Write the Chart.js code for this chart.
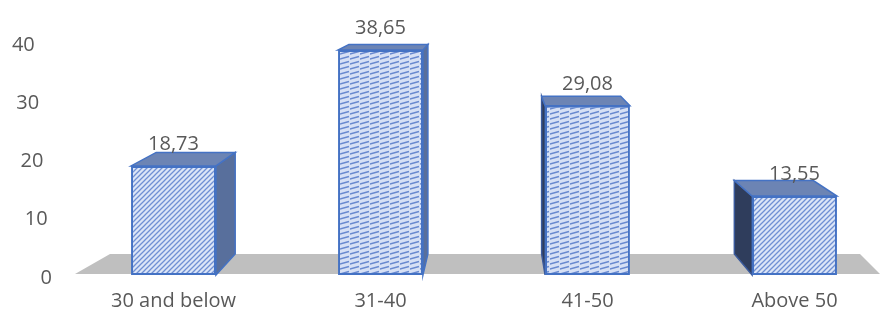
<!DOCTYPE html>
<html>
<head>
<meta charset="utf-8">
<script src="https://cdn.jsdelivr.net/npm/chart.js@4.4.1/dist/chart.umd.min.js"></script>
<style>
  html, body { margin: 0; padding: 0; overflow: hidden; background: #fff; }
  canvas { display: block; }
</style>
</head>
<body>
<canvas id="ageChart" width="898" height="335"></canvas>
<script>
const categories = ['30 and below', '31-40', '41-50', 'Above 50'];
const shares = [18.73, 38.65, 29.08, 13.55];
const yTicks = [0, 10, 20, 30, 40];

const textColor = '#595959';
const fontFamily = '"Open Sans", "Liberation Sans", sans-serif';

// hatch fills for the bar fronts
function makePattern(kind) {
	const c = document.createElement('canvas');
	const g = c.getContext('2d');
	if (kind === 'diag') {
		c.width = 5; c.height = 5;
		g.fillStyle = '#dbe5f7';
		g.fillRect(0, 0, 5, 5);
		g.strokeStyle = '#6f8fd3';
		g.lineWidth = 1.3;
		g.beginPath();
		g.moveTo(-1, 6); g.lineTo(6, -1);
		g.moveTo(-1, 1); g.lineTo(1, -1);
		g.moveTo(4, 6); g.lineTo(6, 4);
		g.stroke();
	} else {
		c.width = 10; c.height = 5;
		g.fillStyle = '#d6e0f5';
		g.fillRect(0, 0, 10, 5);
		g.strokeStyle = '#6788cf';
		g.lineWidth = 1.5;
		g.beginPath();
		g.moveTo(-1, 4.2); g.lineTo(9, 1.6);
		g.stroke();
	}
	return g.createPattern(c, 'repeat');
}
const diag = makePattern('diag');
const wave = makePattern('wave');

// perspective used for the 3D faces
const VX = 495, VY = -30, S = 0.931;
const back = (x, y) => [VX + S * (x - VX), VY + S * (y - VY)];

function poly(ctx, pts, fill, stroke) {
	ctx.beginPath();
	ctx.moveTo(pts[0][0], pts[0][1]);
	for (let i = 1; i < pts.length; i++) ctx.lineTo(pts[i][0], pts[i][1]);
	ctx.closePath();
	ctx.fillStyle = fill;
	ctx.fill();
	if (stroke) {
		ctx.strokeStyle = stroke;
		ctx.lineWidth = 1.5;
		ctx.stroke();
	}
}

const bars3d = {
	id: 'bars3d',
	beforeDatasetsDraw(chart) {
		const ctx = chart.ctx;
		const area = chart.chartArea;
		const y0 = chart.scales.y.getPixelForValue(0);
		ctx.save();
		// floor
		poly(ctx, [
			[area.left + 5, y0 - 1], [area.right - 18, y0 - 1],
			[area.right - 38, y0 - 21], [area.left + 40, y0 - 21]
		], '#bfbfbf');
		// side and top faces
		chart.getDatasetMeta(0).data.forEach((bar) => {
			const l = bar.x - bar.width / 2, r = bar.x + bar.width / 2;
			const t = bar.y, b = bar.base;
			const tl = back(l, t), tr = back(r, t), bl = back(l, b), br = back(r, b);
			if (tl[0] < l - 1) {
				poly(ctx, [[l, t], tl, bl, [l, b]], '#2f3d5c', '#3a5a9c');
			}
			if (tr[0] > r + 1) {
				poly(ctx, [[r, t], tr, br, [r, b]], '#586f9c', '#4472c4');
			}
			poly(ctx, [[l, t], [r, t], tr, tl], '#6c84b4', '#4472c4');
		});
		ctx.restore();
	},
	afterDraw(chart) {
		const ctx = chart.ctx;
		const yScale = chart.scales.y;
		ctx.save();
		ctx.fillStyle = textColor;
		ctx.font = '20px ' + fontFamily;
		// value labels
		ctx.textAlign = 'center';
		ctx.textBaseline = 'alphabetic';
		chart.getDatasetMeta(0).data.forEach((bar, i) => {
			ctx.fillText(shares[i].toFixed(2).replace('.', ','), bar.x, bar.y - 16);
		});
		// y tick labels on the slanted back wall
		ctx.textAlign = 'right';
		ctx.textBaseline = 'middle';
		yTicks.forEach((v) => {
			ctx.fillText(String(v), 52 - v * 0.43, yScale.getPixelForValue(v) + 3);
		});
		ctx.restore();
	}
};

new Chart(document.getElementById('ageChart'), {
	type: 'bar',
	data: {
		labels: categories,
		datasets: [{
			data: shares,
			backgroundColor: [diag, wave, wave, diag],
			borderColor: '#4472c4',
			borderWidth: 2,
			borderSkipped: false,
			barPercentage: 0.41,
			categoryPercentage: 1
		}]
	},
	options: {
		responsive: false,
		animation: false,
		layout: { padding: { left: 70, right: 0, top: 13, bottom: 8 } },
		plugins: {
			legend: { display: false },
			tooltip: { enabled: false }
		},
		scales: {
			x: {
				grid: { display: false, drawTicks: false },
				border: { display: false },
				ticks: {
					color: textColor,
					padding: 14,
					maxRotation: 0,
					font: { size: 20, family: fontFamily }
				}
			},
			y: {
				display: false,
				min: 0,
				max: 45
			}
		}
	},
	plugins: [bars3d]
});
</script>
</body>
</html>
